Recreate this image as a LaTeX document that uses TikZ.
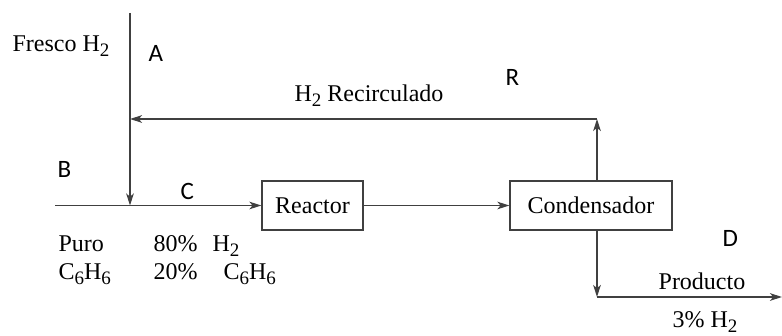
\documentclass[tikz,border=0pt]{standalone}
\usepackage{fontspec}
\setmainfont{Liberation Serif}
\newfontfamily\lblfont{Carlito}
\usetikzlibrary{arrows.meta}
\newcommand\subidx[1]{\raisebox{-0.45ex}{\fontsize{9.5}{10}\selectfont #1}}

\begin{document}
\begin{tikzpicture}[x=0.5pt,y=-0.5pt,
  line width=0.65pt, draw=black!75,
  flow/.style={-{Stealth[length=6pt,width=3.8pt,inset=1.6pt]}},
  box/.style={draw, minimum height=24.5pt, inner sep=0pt, font=\fontsize{12}{14}\selectfont},
  txt/.style={anchor=base west, inner sep=0pt, font=\fontsize{12}{14}\selectfont},
  tag/.style={anchor=base west, inner sep=0pt, font=\fontsize{12.5}{14}\lblfont}]
\useasboundingbox (0,0) rectangle (782,336);

% equipos
\node[box, minimum width=50.5pt] (reactor) at (312.5,205.5) {Reactor};
\node[box, minimum width=81pt] (cond) at (591,205.5) {Condensador};

% puntos de las corrientes
\coordinate (fresh) at (130,13);
\coordinate (mix) at (130,205.5);
\coordinate (feed) at (55,205.5);
\coordinate (split) at (597,119);
\coordinate (recyc) at (130,119);
\coordinate (prod) at (597,297);
\coordinate (out) at (782,297);

\draw[flow] (fresh) -- (mix);
\draw[flow] (feed) -- (reactor);
\draw[flow] (reactor) -- (cond);
\draw[flow] (cond.north -| split) -- (split);
\draw[flow] (split) -- (recyc);
\draw[flow] (cond.south -| prod) -- (prod);
\draw[flow] (prod) -- (out);

% textos
\node[txt] (fresco) at (12,52) {Fresco H\subidx{2}};
\node[txt] (recirc) at (294,102) {H\subidx{2} Recirculado};
\node[txt] (puro) at (58,252) {Puro};
\node[txt] (benz) at (58,280) {C\subidx{6}H\subidx{6}};
\node[txt] (xh) at (153,252) {80\%\hspace{7.5pt}H\subidx{2}};
\node[txt] (xb) at (153,280) {20\%\hspace{13pt}C\subidx{6}H\subidx{6}};
\node[txt] (producto) at (658,290) {Producto};
\node[txt] (xd) at (672,328) {3\% H\subidx{2}};

% letras de las corrientes
\node[tag] (a) at (148,62) {A};
\node[tag] (r) at (505,86) {R};
\node[tag] (b) at (57,178) {B};
\node[tag] (c) at (180,200) {C};
\node[tag] (d) at (722,247) {D};
\end{tikzpicture}
\end{document}
